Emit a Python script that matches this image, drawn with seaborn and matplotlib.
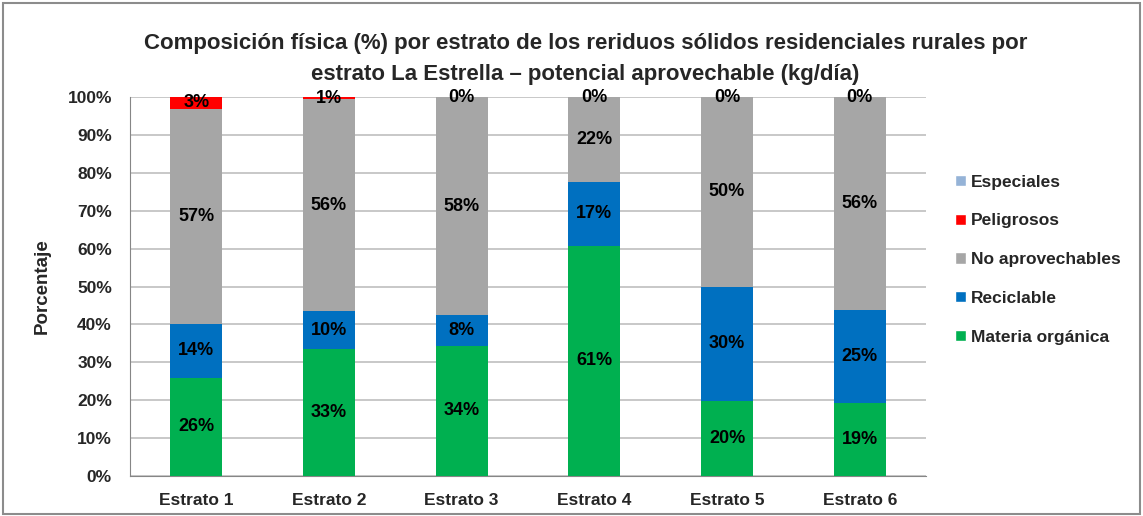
import numpy as np
import pandas as pd
import seaborn as sns
import matplotlib.pyplot as plt
from matplotlib.patches import Patch, Rectangle

# datos (% por estrato)
estratos = ["Estrato 1", "Estrato 2", "Estrato 3", "Estrato 4", "Estrato 5", "Estrato 6"]
materia_organica = [25.9, 33.4, 34.4, 60.8, 19.8, 19.3]
reciclable = [14.2, 10.1, 8.0, 16.9, 30.2, 24.6]
no_aprovechables = [56.8, 55.9, 57.6, 22.3, 50.0, 56.1]
peligrosos = [3.1, 0.6, 0.0, 0.0, 0.0, 0.0]
especiales = [0.0, 0.0, 0.0, 0.0, 0.0, 0.0]

series = ["Materia orgánica", "Reciclable", "No aprovechables", "Peligrosos", "Especiales"]
colores = ["#00B050", "#0070C0", "#A6A6A6", "#FF0000", "#95B3D7"]

df = pd.DataFrame({
    "Materia orgánica": materia_organica,
    "Reciclable": reciclable,
    "No aprovechables": no_aprovechables,
    "Peligrosos": peligrosos,
    "Especiales": especiales,
}, index=estratos)
acum = df.cumsum(axis=1)

sns.set_style("white")
plt.rcParams["font.family"] = ["Liberation Sans Narrow", "Liberation Sans", "DejaVu Sans"]
plt.rcParams["font.weight"] = "bold"

fig = plt.figure(figsize=(11.43, 5.16), dpi=100)
ax = fig.add_axes([0.1137, 0.0775, 0.6965, 0.7345])

# barras apiladas: se dibuja el acumulado de arriba hacia abajo
for s, c in reversed(list(zip(series, colores))):
    sns.barplot(x=estratos, y=acum[s].values, color=c, width=0.39,
                saturation=1, linewidth=0, edgecolor=c, ax=ax, zorder=3)

# etiquetas
for i, e in enumerate(estratos):
    base = 0
    for s in series[:4]:
        v = df.loc[e, s]
        ax.text(i, base + v / 2, f"{v:.0f}%", ha="center", va="center",
                fontsize=13, fontweight="bold", color="black", zorder=5)
        base += v

ax.set_ylim(0, 100)
ax.set_xlim(-0.5, len(estratos) - 0.5)
ax.set_yticks(np.arange(0, 101, 10))
ax.set_yticklabels([f"{t}%" for t in range(0, 101, 10)], fontsize=12.5, fontweight="bold")
ax.set_xticks(range(len(estratos)))
ax.set_xticklabels(estratos, fontsize=12.5, fontweight="bold")
ax.tick_params(axis="x", length=0, pad=12)
ax.set_xticks(np.arange(-0.5, len(estratos), 1), minor=True)
ax.tick_params(axis="x", which="minor", length=6, color="#868686", direction="out")
ax.tick_params(axis="y", length=5, color="#868686", direction="out", pad=8)
ax.yaxis.grid(True, color="#BFBFBF", linewidth=1.2, zorder=0)
ax.set_axisbelow(True)
for side in ["top", "right"]:
    ax.spines[side].set_visible(False)
for side in ["left", "bottom"]:
    ax.spines[side].set_color("#868686")
ax.set_xlabel("")
ax.set_ylabel("Porcentaje", fontsize=13.5, fontweight="bold", labelpad=12)

fig.text(0.512, 0.915, "Composición física (%) por estrato de los reriduos sólidos residenciales rurales por",
         ha="center", va="center", fontsize=16, fontweight="bold")
fig.text(0.512, 0.856, "estrato La Estrella – potencial aprovechable (kg/día)",
         ha="center", va="center", fontsize=16, fontweight="bold")

handles = [Patch(facecolor=c, label=s) for s, c in zip(series, colores)][::-1]
fig.legend(handles=handles, loc="upper left", bbox_to_anchor=(0.822, 0.692),
           frameon=False, handlelength=0.6, handleheight=0.6,
           handletextpad=0.3, labelspacing=1.37,
           prop={"weight": "bold", "size": 12.5})

fig.patches.append(Rectangle((0.003, 0.003), 0.994, 0.991, transform=fig.transFigure,
                             fill=False, edgecolor="#8C8C8C", linewidth=1.5))

fig.savefig("out.png", dpi=100)
